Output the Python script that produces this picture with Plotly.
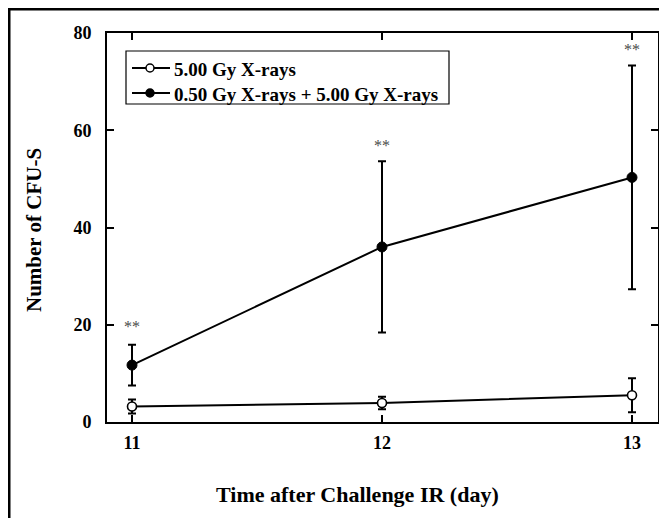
import plotly.graph_objects as go

days = [11, 12, 13]
single_mean = [3.2, 3.9, 5.5]
single_err = [1.45, 1.3, 3.5]
combo_mean = [11.7, 36.0, 50.3]
combo_err = [4.2, 17.6, 23.0]
star_y = [19.7, 56.9, 76.7]
star_text = ["**", "**", "**"]
y_ticks = [0, 20, 40, 60, 80]
legend_labels = ["<b>5.00 Gy X-rays</b>", "<b>0.50 Gy X-rays + 5.00 Gy X-rays</b>"]
legend_fill = ["white", "black"]

FONT = "Liberation Serif"

# page offset (browser body margin)
OFF = 8
W, H = 667 - OFF, 518 - OFF
# plot area in page pixels
PL, PR, PT, PB = 107, 658, 33, 422
L, R, T, B = PL - OFF, PR - OFF, PT - OFF, PB - OFF
pw, ph = R - L, B - T


def px(x):
    return (x - OFF - L) / pw


def py(y):
    return (B - (y - OFF)) / ph


fig = go.Figure()
fig.add_trace(go.Scatter(
    x=days, y=single_mean, mode="lines+markers", name=legend_labels[0], showlegend=False,
    line=dict(color="black", width=2),
    marker=dict(symbol="circle", size=9, color="white", line=dict(color="black", width=1.6)),
    error_y=dict(type="data", array=single_err, visible=True, color="black", thickness=2, width=4),
))
fig.add_trace(go.Scatter(
    x=days, y=combo_mean, mode="lines+markers", name=legend_labels[1], showlegend=False,
    line=dict(color="black", width=2),
    marker=dict(symbol="circle", size=10, color="black", line=dict(color="black", width=1)),
    error_y=dict(type="data", array=combo_err, visible=True, color="black", thickness=2, width=4),
))

for xv, yv, t in zip(days, star_y, star_text):
    fig.add_annotation(x=xv, y=yv, text=t, showarrow=False,
                       font=dict(family=FONT, size=16, color="#4a4a4a"))

# outer frame (top and left edges)
fig.add_shape(type="line", xref="paper", yref="paper", x0=px(OFF), x1=px(667 + 5), y0=py(OFF + 1), y1=py(OFF + 1),
              line=dict(color="black", width=3))
fig.add_shape(type="line", xref="paper", yref="paper", x0=px(OFF + 1), x1=px(OFF + 1), y0=py(OFF), y1=py(530),
              line=dict(color="black", width=3))

# manual legend
fig.add_shape(type="rect", xref="paper", yref="paper", x0=px(126), x1=px(449), y0=py(51), y1=py(104),
              line=dict(color="black", width=1.2), fillcolor="white", layer="above")
row_y = [68, 93]
for i, (lab, fc) in enumerate(zip(legend_labels, legend_fill)):
    yy = row_y[i]
    fig.add_shape(type="line", xref="paper", yref="paper", x0=px(132), x1=px(170), y0=py(yy), y1=py(yy),
                  line=dict(color="black", width=2), layer="above")
    fig.add_shape(type="circle", xref="paper", yref="paper", x0=px(146), x1=px(154), y0=py(yy - 4), y1=py(yy + 4),
                  line=dict(color="black", width=1.5), fillcolor=fc, layer="above")
    fig.add_annotation(xref="paper", yref="paper", x=px(172), y=py(yy + 1), text=lab, showarrow=False,
                       xanchor="left", yanchor="middle",
                       font=dict(family=FONT, size=19, color="black"))

fig.add_annotation(xref="paper", yref="paper", x=px(357), y=py(494), text="<b>Time after Challenge IR (day)</b>",
                   showarrow=False, xanchor="center", yanchor="middle",
                   font=dict(family=FONT, size=22, color="black"))
fig.add_annotation(xref="paper", yref="paper", x=px(34), y=py(230), text="<b>Number of CFU-S</b>",
                   showarrow=False, xanchor="center", yanchor="middle", textangle=-90,
                   font=dict(family=FONT, size=21, color="black"))

fig.update_layout(
    width=W, height=H,
    margin=dict(l=L, r=W - R, t=T, b=H - B, autoexpand=False),
    paper_bgcolor="white", plot_bgcolor="white",
    font=dict(family=FONT, color="black"),
    showlegend=False,
    xaxis=dict(range=[10.9, 13.104], tickvals=days, ticktext=["<b>%d</b>" % d for d in days],
               ticks="inside", ticklen=7, tickwidth=2, tickcolor="black",
               showline=True, linecolor="black", linewidth=2, mirror="ticks",
               showgrid=False, zeroline=False, ticklabelstandoff=3, automargin=False,
               tickfont=dict(family=FONT, size=18, color="black")),
    yaxis=dict(range=[0, 80], tickvals=y_ticks, ticktext=["<b>%d</b>" % v for v in y_ticks],
               ticks="inside", ticklen=7, tickwidth=2, tickcolor="black",
               showline=True, linecolor="black", linewidth=2, mirror="ticks",
               showgrid=False, zeroline=False, ticklabelstandoff=10, automargin=False,
               tickfont=dict(family=FONT, size=18, color="black")),
)

fig.write_html("out.html")
